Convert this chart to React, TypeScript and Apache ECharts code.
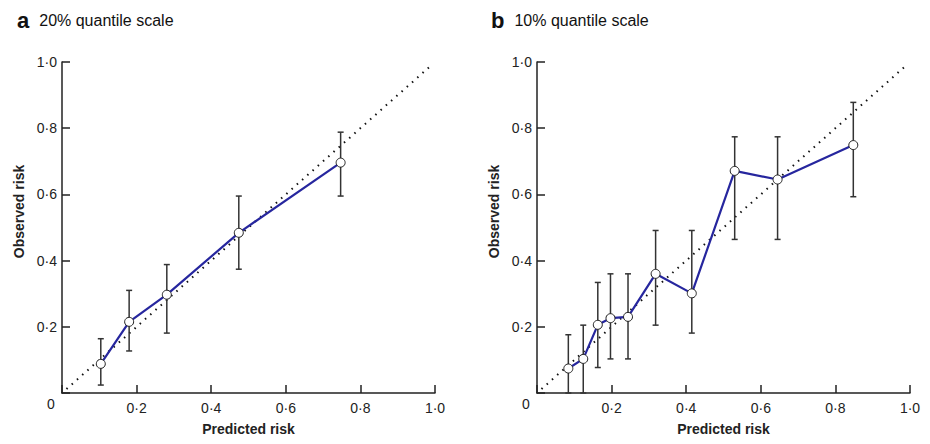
import React, { useEffect, useRef } from "react";
import * as echarts from "echarts";

// Panel a: 20% quantile scale
const aPred = [0.104, 0.18, 0.281, 0.474, 0.747];
const aObs = [0.088, 0.215, 0.297, 0.484, 0.696];
const aLow = [0.024, 0.127, 0.181, 0.374, 0.595];
const aHigh = [0.164, 0.31, 0.388, 0.595, 0.788];

// Panel b: 10% quantile scale
const bPred = [0.084, 0.124, 0.163, 0.197, 0.244, 0.318, 0.415, 0.53, 0.645, 0.848];
const bObs = [0.074, 0.103, 0.206, 0.226, 0.23, 0.36, 0.301, 0.671, 0.645, 0.749];
const bLow = [0.0, 0.0, 0.077, 0.103, 0.103, 0.205, 0.181, 0.464, 0.464, 0.593];
const bHigh = [0.176, 0.205, 0.334, 0.36, 0.36, 0.491, 0.491, 0.774, 0.774, 0.878];

const diag = [
  [0.012, 0.012],
  [0.99, 0.99],
];

const FONT = "Liberation Sans, Arial, Helvetica, sans-serif";
const INK = "#222";
const LINE = "#26269e";

const fmt = (v: number) => (v === 0 ? "" : v.toFixed(1).replace(".", "\u00b7"));

function makeAxes(idx: number) {
  const common = {
    gridIndex: idx,
    min: 0,
    max: 1,
    interval: 0.2,
    splitLine: { show: false },
    axisLine: { show: true, lineStyle: { color: INK, width: 1.5 } },
    axisTick: { show: true, inside: true, length: 8, lineStyle: { color: INK, width: 1.5 } },
    axisLabel: { formatter: fmt, color: INK, fontSize: 14, fontFamily: FONT },
  };
  const x = {
    ...common,
    type: "value",
    name: "Predicted risk",
    nameLocation: "middle",
    nameGap: 29,
    nameTextStyle: { fontWeight: "bold", fontSize: 14, color: INK, fontFamily: FONT },
    axisLabel: { ...common.axisLabel, margin: 8 },
  };
  const y = {
    ...common,
    type: "value",
    name: "Observed risk",
    nameLocation: "middle",
    nameGap: 36,
    nameTextStyle: {
      fontWeight: "bold",
      fontSize: 14,
      color: INK,
      fontFamily: FONT,
      padding: [0, 0, 0, 32],
    },
    axisLabel: { ...common.axisLabel, margin: 5 },
  };
  return { x, y };
}

function errSeries(idx: number, xs: number[], lo: number[], hi: number[]) {
  return {
    type: "custom",
    xAxisIndex: idx,
    yAxisIndex: idx,
    z: 2,
    data: xs.map((x, i) => [x, lo[i], hi[i]]),
    renderItem: (_p: any, api: any) => {
      const x = api.value(0);
      const a = api.coord([x, api.value(1)]);
      const b = api.coord([x, api.value(2)]);
      const w = 3;
      const style = { stroke: "#333", lineWidth: 1.5 };
      return {
        type: "group",
        children: [
          { type: "line", shape: { x1: a[0], y1: a[1], x2: b[0], y2: b[1] }, style },
          { type: "line", shape: { x1: a[0] - w, y1: a[1], x2: a[0] + w, y2: a[1] }, style },
          { type: "line", shape: { x1: b[0] - w, y1: b[1], x2: b[0] + w, y2: b[1] }, style },
        ],
      };
    },
  };
}

function panelSeries(idx: number, xs: number[], ys: number[], lo: number[], hi: number[]) {
  return [
    {
      type: "line",
      xAxisIndex: idx,
      yAxisIndex: idx,
      z: 1,
      data: diag,
      symbol: "none",
      lineStyle: { color: "#111", width: 2, type: [1.5, 5.5] },
    },
    errSeries(idx, xs, lo, hi),
    {
      type: "line",
      xAxisIndex: idx,
      yAxisIndex: idx,
      z: 3,
      data: xs.map((x, i) => [x, ys[i]]),
      symbol: "circle",
      symbolSize: 9,
      lineStyle: { color: LINE, width: 2.2 },
      itemStyle: { color: "#fff", borderColor: "#222", borderWidth: 1 },
    },
  ];
}

function titleOf(left: number, letter: string, text: string) {
  return {
    left,
    top: 4,
    text: `{l|${letter}}  {t|${text}}`,
    textStyle: {
      fontWeight: "normal",
      rich: {
        l: { fontSize: 22, fontWeight: "bold", color: "#111", fontFamily: FONT },
        t: { fontSize: 16, fontWeight: "normal", color: "#111", fontFamily: FONT },
      },
    },
  };
}

export default function App() {
  const ref = useRef<HTMLDivElement>(null);
  useEffect(() => {
    if (!ref.current) return;
    const chart = echarts.init(ref.current, null, { renderer: "svg" });
    const a = makeAxes(0);
    const b = makeAxes(1);
    chart.setOption({
      animation: false,
      backgroundColor: "#fff",
      textStyle: { fontFamily: FONT },
      title: [titleOf(12, "a", "20% quantile scale"), titleOf(486, "b", "10% quantile scale")],
      graphic: [
        {
          type: "text",
          left: 47,
          top: 397,
          style: { text: "0", font: `14px ${FONT}`, fill: INK },
        },
        {
          type: "text",
          left: 522,
          top: 397,
          style: { text: "0", font: `14px ${FONT}`, fill: INK },
        },
      ],
      grid: [
        { left: 62, top: 62, width: 373, height: 331 },
        { left: 537, top: 62, width: 373, height: 331 },
      ],
      xAxis: [a.x, b.x],
      yAxis: [a.y, b.y],
      series: [
        ...panelSeries(0, aPred, aObs, aLow, aHigh),
        ...panelSeries(1, bPred, bObs, bLow, bHigh),
      ],
    });
    return () => chart.dispose();
  }, []);
  return (
    <div
      ref={ref}
      style={{ position: "fixed", left: 0, top: 0, width: 930, height: 444, background: "#fff" }}
    />
  );
}
